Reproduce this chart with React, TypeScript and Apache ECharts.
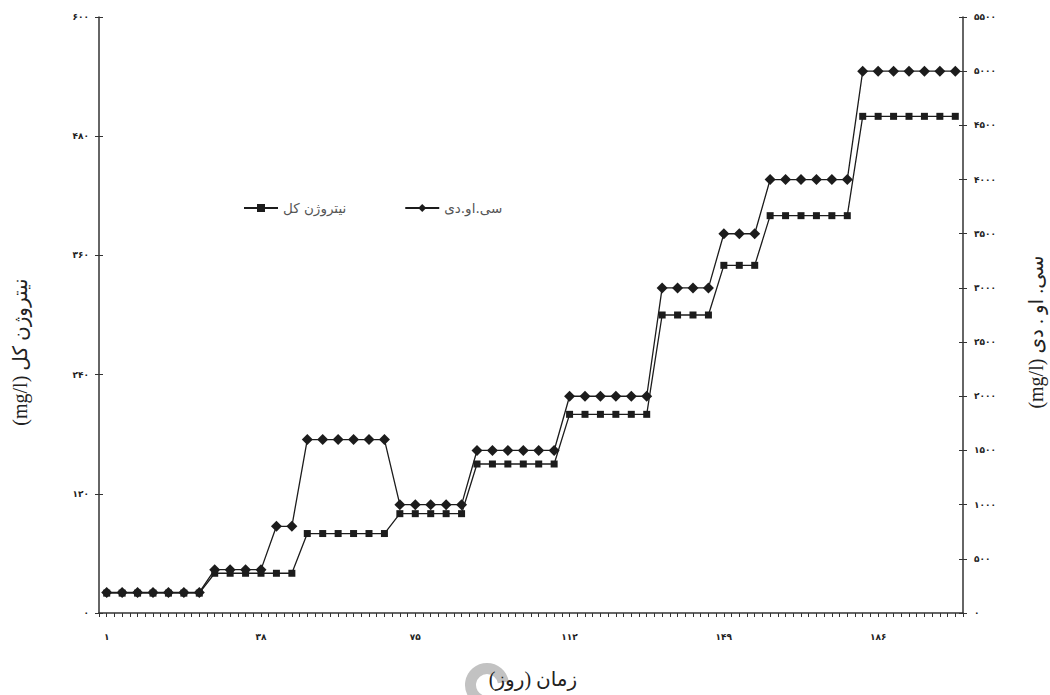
import React, { useEffect, useRef } from "react";
import * as echarts from "echarts";

// Sampling days (category axis)
const days = [
  1, 5, 8, 12, 16, 20, 23, 27, 31, 34,
  38, 42, 45, 49, 53, 57, 60, 64, 68, 71,
  75, 79, 82, 86, 90, 94, 97, 101, 105, 108,
  112, 116, 119, 123, 127, 131, 134, 138, 142, 145,
  149, 153, 156, 160, 164, 168, 171, 175, 179, 182,
  186, 190, 193, 197, 201, 205,
];

// Total nitrogen (mg/l), left axis
const totalNitrogen = [
  20, 20, 20, 20, 20, 20, 20,
  40, 40, 40, 40, 40, 40,
  80, 80, 80, 80, 80, 80,
  100, 100, 100, 100, 100,
  150, 150, 150, 150, 150, 150,
  200, 200, 200, 200, 200, 200,
  300, 300, 300, 300,
  350, 350, 350,
  400, 400, 400, 400, 400, 400,
  500, 500, 500, 500, 500, 500, 500,
];

// COD (mg/l), right axis
const cod = [
  190, 190, 190, 190, 190, 190, 190,
  400, 400, 400, 400,
  800, 800,
  1600, 1600, 1600, 1600, 1600, 1600,
  1000, 1000, 1000, 1000, 1000,
  1500, 1500, 1500, 1500, 1500, 1500,
  2000, 2000, 2000, 2000, 2000, 2000,
  3000, 3000, 3000, 3000,
  3500, 3500, 3500,
  4000, 4000, 4000, 4000, 4000, 4000,
  5000, 5000, 5000, 5000, 5000, 5000, 5000,
];

const nitrogenName = "نیتروژن کل";
const codName = "سی.او.دی";

const leftMax = 600;
const leftStep = 120;
const rightMax = 5500;
const rightStep = 500;

const faDigits = "۰۱۲۳۴۵۶۷۸۹";
const toFa = (v: string | number) =>
  String(v).replace(/\d/g, (d) => faDigits[Number(d)]);

const ink = "#1c1c1c";
const axisColor = "#333";
const tickFont = {
  fontFamily: "DejaVu Sans",
  fontSize: 9,
  fontWeight: "bold" as const,
  color: "#222",
};
const titleFont = '20px "Liberation Serif", "DejaVu Sans", serif';

export default function App() {
  const ref = useRef<HTMLDivElement>(null);

  useEffect(() => {
    if (!ref.current) return;
    const chart = echarts.init(ref.current, undefined, { renderer: "svg" });

    const axisLine = { show: true, lineStyle: { color: axisColor, width: 1.5 } };

    chart.setOption({
      animation: false,
      backgroundColor: "#fff",
      grid: { left: 99, right: 87, top: 17, bottom: 82, containLabel: false },
      legend: {
        data: [nitrogenName, codName],
        left: 243,
        top: 201,
        padding: 0,
        itemWidth: 34,
        itemHeight: 10,
        itemGap: 58,
        textStyle: { fontFamily: "DejaVu Sans", fontSize: 13.5, color: "#555" },
      },
      xAxis: [
        {
          type: "category",
          data: days.map(String),
          boundaryGap: true,
          axisLine,
          axisTick: { show: true, interval: 0, length: 4, lineStyle: { color: axisColor } },
          axisLabel: { interval: 9, margin: 19, formatter: (v: string) => toFa(v), ...tickFont },
          splitLine: { show: false },
        },
        {
          type: "category",
          data: days.map(String),
          position: "bottom",
          boundaryGap: true,
          axisLine: { show: false },
          axisTick: {
            show: true,
            interval: 0,
            alignWithLabel: true,
            length: 4,
            lineStyle: { color: axisColor },
          },
          axisLabel: { show: false },
          splitLine: { show: false },
        },
      ],
      yAxis: [
        {
          type: "value",
          position: "left",
          min: 0,
          max: leftMax,
          interval: leftStep,
          axisLine,
          axisTick: { show: true, length: 4, lineStyle: { color: axisColor } },
          axisLabel: { margin: 10, formatter: (v: number) => toFa(v), ...tickFont },
          splitLine: { show: false },
        },
        {
          type: "value",
          position: "right",
          min: 0,
          max: rightMax,
          interval: rightStep,
          axisLine,
          axisTick: { show: true, length: 4, lineStyle: { color: axisColor } },
          axisLabel: { margin: 11, formatter: (v: number) => toFa(v), ...tickFont },
          splitLine: { show: false },
        },
        {
          type: "value",
          position: "left",
          min: 0,
          max: leftMax,
          interval: leftStep,
          axisLine: { show: false },
          axisTick: { show: true, inside: true, length: 4, lineStyle: { color: axisColor } },
          axisLabel: { show: false },
          splitLine: { show: false },
        },
        {
          type: "value",
          position: "right",
          min: 0,
          max: rightMax,
          interval: rightStep,
          axisLine: { show: false },
          axisTick: { show: true, inside: true, length: 4, lineStyle: { color: axisColor } },
          axisLabel: { show: false },
          splitLine: { show: false },
        },
      ],
      series: [
        {
          name: nitrogenName,
          type: "line",
          xAxisIndex: 0,
          yAxisIndex: 0,
          data: totalNitrogen,
          symbol: "rect",
          symbolSize: 7,
          showAllSymbol: true,
          lineStyle: { color: ink, width: 1.3 },
          itemStyle: { color: ink },
        },
        {
          name: codName,
          type: "line",
          xAxisIndex: 0,
          yAxisIndex: 1,
          data: cod,
          symbol: "diamond",
          symbolSize: 11,
          showAllSymbol: true,
          lineStyle: { color: ink, width: 1.3 },
          itemStyle: { color: ink },
        },
      ],
      graphic: [
        {
          type: "sector",
          z: 1,
          shape: {
            cx: 487,
            cy: 685,
            r: 22,
            r0: 11,
            startAngle: Math.PI * 0.6,
            endAngle: Math.PI * 1.95,
            clockwise: true,
          },
          style: { fill: "#c2c2c2" },
        },
        {
          type: "text",
          z: 10,
          x: 533,
          y: 679,
          style: {
            text: "زمان (روز)",
            font: titleFont,
            fill: "#222",
            textAlign: "center",
            textVerticalAlign: "middle",
          },
        },
        {
          type: "text",
          z: 10,
          x: 20,
          y: 352,
          rotation: Math.PI / 2,
          style: {
            text: "(mg/l) نیتروژن کل",
            font: titleFont,
            fill: "#222",
            textAlign: "center",
            textVerticalAlign: "middle",
          },
        },
        {
          type: "text",
          z: 10,
          x: 1036,
          y: 332,
          rotation: Math.PI / 2,
          style: {
            text: "(mg/l) سی. او . دی",
            font: titleFont,
            fill: "#222",
            textAlign: "center",
            textVerticalAlign: "middle",
          },
        },
      ],
    });

    return () => chart.dispose();
  }, []);

  return (
    <div
      ref={ref}
      style={{ position: "absolute", left: 0, top: 0, width: 1050, height: 695 }}
    />
  );
}
